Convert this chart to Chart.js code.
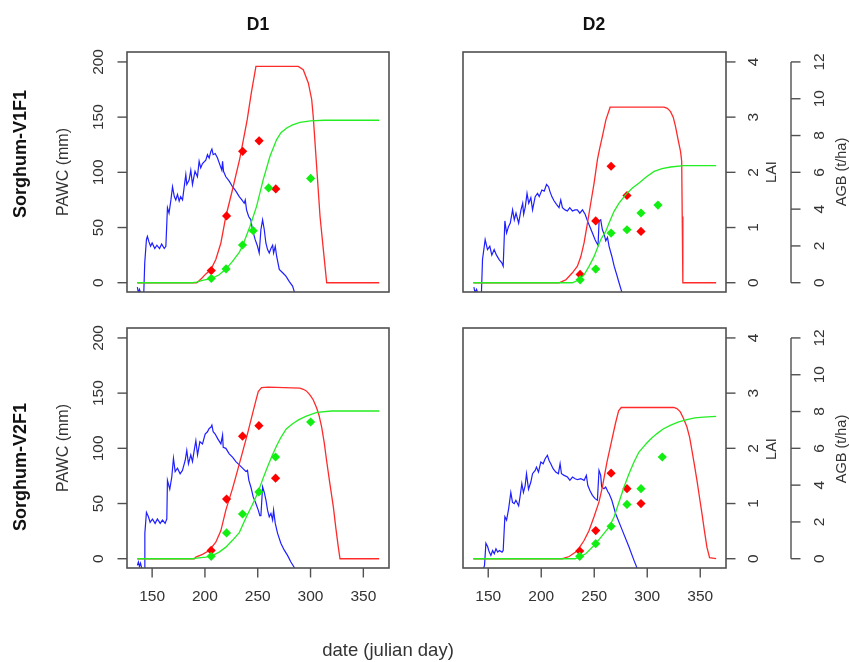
<!DOCTYPE html>
<html>
<head>
<meta charset="utf-8">
<script src="https://cdn.jsdelivr.net/npm/chart.js@4.4.1/dist/chart.umd.min.js"></script>
<style>
  html, body { margin: 0; padding: 0; background: #fff; }
  #wrap { position: relative; width: 849px; height: 662px; overflow: hidden; background: #fff; }
  canvas { position: absolute; left: 0; top: 0; }
  .t { position: absolute; white-space: nowrap; font-family: "Liberation Sans", Arial, Helvetica, sans-serif; transform: translate(-50%, -50%); line-height: 1; }
  .v { transform: translate(-50%, -50%) rotate(-90deg); }
  .title { font-weight: bold; font-size: 17.5px; color: #111; }
  .row { font-weight: bold; font-size: 18px; color: #111; }
  .ylab { font-size: 16px; color: #333; }
  .rlab { font-size: 14.5px; color: #333; }
  .xlab { font-size: 18.5px; color: #333; }
</style>
</head>
<body>
<div id="wrap">
  <canvas id="c1" width="849" height="662"></canvas>
  <canvas id="c2" width="849" height="662"></canvas>
  <canvas id="c3" width="849" height="662"></canvas>
  <canvas id="c4" width="849" height="662"></canvas>
  <div class="t title" style="left:258px;top:25px;">D1</div>
  <div class="t title" style="left:594px;top:25px;">D2</div>
  <div class="t v row" style="left:20px;top:154px;">Sorghum-V1F1</div>
  <div class="t v row" style="left:20px;top:467px;">Sorghum-V2F1</div>
  <div class="t v ylab" style="left:63px;top:172px;">PAWC (mm)</div>
  <div class="t v ylab" style="left:63px;top:448px;">PAWC (mm)</div>
  <div class="t v rlab" style="left:771px;top:172px;">LAI</div>
  <div class="t v rlab" style="left:771px;top:449px;">LAI</div>
  <div class="t v rlab" style="left:841px;top:172px;">AGB (t/ha)</div>
  <div class="t v rlab" style="left:841px;top:449px;">AGB (t/ha)</div>
  <div class="t xlab" style="left:388px;top:650px;">date (julian day)</div>
</div>
<script>
// ---------- tick labels ----------
const dayTicks = [150, 200, 250, 300, 350];
const pawcTicks = [0, 50, 100, 150, 200];
const laiTicks = [0, 1, 2, 3, 4];
const agbTicks = [0, 2, 4, 6, 8, 10, 12];

// ---------- Sorghum-V1F1, D1 ----------
const v1d1Pawc = [[136,-4],[137,-9],[138,-6],[140,-12],[142,-12],[143,18],[144.6,39],[145.5,42],[147,37],[148.5,33],[150,36],[152.5,31],[154.5,34],[157,31],[159,35],[161.5,31],[163,33],[164.5,68],[166,63],[167.8,75],[169.3,87],[171,78],[172.4,75],[174,80],[175.6,74],[177,78],[178.8,75],[180.4,87],[181.9,98],[182.8,89],[185,93],[186.6,102],[188.2,89],[190.6,101],[192.9,96],[194.5,110],[196,104],[197.7,108],[200.8,111],[202.4,116],[204,113],[205.6,119],[206.6,121],[207.8,116],[209.7,117],[211.9,113],[214.1,107],[216,102],[216.7,110],[217.6,101],[219.8,96],[223,92],[226.1,87],[229.3,83],[232.5,78],[235,75],[237.2,72],[238.2,75],[239.4,66],[241.4,60],[243.5,57],[245,48],[247.6,39],[249.8,33],[251.4,27],[253,48],[254.6,57],[256.2,48],[257.7,36],[259.3,30],[260.9,27],[262.5,31],[264.1,34],[265,27],[266.6,33],[267.9,24],[270.4,12],[273.6,9],[276.7,6],[279.9,1],[283,-3],[284.6,-8],[286,-12]];
const v1d1Lai = [[136,0],[192,0],[193,0.01],[197,0.08],[200.9,0.16],[205.6,0.24],[210.3,0.42],[215.1,0.72],[219.8,1.2],[226,1.68],[233,2.25],[240,2.95],[244,3.45],[248.3,3.92],[288.4,3.92],[293.1,3.86],[297.9,3.62],[301.1,3.32],[302.6,3.0],[305.8,2.1],[309,1.2],[313.7,0.3],[315.3,0],[365,0]];
const v1d1Agb = [[136,0],[188,0],[192,0.03],[197.7,0.13],[206.6,0.24],[213.5,0.43],[219.8,0.74],[226.1,1.16],[232.5,1.65],[235.6,2.0],[242.6,3.06],[248.9,4.15],[255.2,5.6],[261.6,6.87],[267.9,7.78],[272,8.15],[277.4,8.41],[283,8.58],[290,8.72],[300,8.8],[313,8.83],[365,8.83]];
const v1d1LaiObs = [[206,0.22],[220.5,1.21],[235.7,2.38],[251.3,2.57],[267.1,1.70]];
const v1d1AgbObs = [[206,0.23],[220,0.75],[235.6,2.05],[245.7,2.83],[260.3,5.15],[300.1,5.67]];

// ---------- Sorghum-V1F1, D2 ----------
const v1d2Pawc = [[136.5,-4],[137.5,-9],[139,-6],[141,-12],[143.5,-12],[144.6,21],[147.1,39],[149.3,30],[151.5,33],[153.4,25],[155.6,30],[157.8,25],[160.3,21],[162.8,18],[164.1,15],[165.7,56],[167.3,45],[169.2,51],[170.8,54],[173,66],[174.6,57],[176.2,63],[178.7,54],[180.9,66],[182.5,72],[183.4,62],[185,69],[186.6,81],[188.2,72],[190.2,77],[191.8,66],[194.3,78],[196.5,81],[198.1,78],[200.6,84],[202.8,83],[205,89],[206.9,87],[208.1,83],[210,78],[212.2,74],[214.4,71],[216.8,68],[218.4,75],[220,68],[222.5,66],[224.7,65],[226.9,68],[229.4,65],[231.9,66],[234.1,66],[236.4,63],[238.9,66],[241.4,62],[243.6,56],[245.8,51],[248.3,45],[250.8,39],[252.4,36],[253.6,34],[254.6,56],[256.1,57],[257.7,48],[259.3,44],[260.9,38],[262.5,41],[264,33],[266.6,24],[268.8,15],[271.3,7],[273.4,0],[275.9,-8],[277,-11]];
const v1d2Lai = [[136,0],[216.8,0],[223.1,0.05],[229.4,0.18],[234.1,0.3],[237.3,0.47],[240.4,0.72],[243.6,1.08],[246.7,1.44],[249.9,1.81],[253,2.23],[255,2.42],[258,2.68],[261,2.95],[265,3.18],[315.8,3.18],[319,3.16],[322,3.1],[324.5,3.0],[326.7,2.83],[329,2.6],[331.4,2.38],[332.5,2.2],[333,1.2],[333.6,0],[365,0]];
const v1d2Agb = [[136,0],[229.4,0],[235.7,0.16],[240.4,0.43],[245.1,0.89],[249.9,1.43],[253,1.89],[256.1,2.34],[260.8,2.79],[264,3.24],[268.7,3.88],[273.4,4.33],[279.7,4.79],[286,5.15],[292.3,5.42],[299,5.75],[306.5,6.05],[314,6.2],[322,6.29],[334.6,6.36],[365,6.36]];
const v1d2LaiObs = [[236.7,0.15],[251.4,1.12],[265.9,2.11],[280.9,1.58],[294.1,0.93]];
const v1d2AgbObs = [[236.7,0.16],[251.4,0.74],[265.9,2.7],[280.9,2.88],[294.1,3.79],[310.1,4.22]];

// ---------- Sorghum-V2F1, D1 ----------
const v2d1Pawc = [[136,-6],[137,-3],[138,-7],[139,-4],[140.5,-10],[142.5,-12],[143.1,23],[144.6,42],[146.5,38],[148.1,33],[150.3,36],[152.8,32],[155,36],[157.6,32],[159.8,35],[162.3,32],[163.9,36],[164.5,71],[166.7,63],[168.6,74],[170.2,91],[171.8,79],[174,82],[176.5,77],[178.7,80],[181.3,89],[182.8,98],[184.4,86],[186.6,94],[188.2,88],[189.8,98],[191.4,107],[193,94],[195.2,106],[197.7,104],[200.2,113],[202.4,115],[204,118],[205.6,119],[206.6,121],[207.8,115],[209.7,113],[211.9,109],[215.1,104],[216.7,112],[217.3,101],[219.8,100],[223,95],[226.1,92],[229.3,88],[232.5,85],[235.6,82],[238.8,79],[240.3,80],[241.6,71],[243.5,65],[245.7,56],[247.9,51],[250.5,44],[252,39],[253,39],[254.6,65],[256.2,60],[257.8,53],[259.3,44],[260.9,38],[262.5,41],[264.1,35],[265,44],[266.6,32],[268.8,23],[271.9,14],[275,8],[278.2,3],[281.4,-3],[284.6,-8],[286,-12]];
const v2d1Lai = [[136,0],[190,0],[191.4,0.03],[197.7,0.08],[204,0.15],[210.3,0.3],[215.1,0.51],[219.8,0.88],[226.1,1.27],[230.9,1.6],[235.6,1.93],[240.4,2.27],[245.1,2.63],[248.3,2.87],[250.5,3.03],[253.6,3.1],[260,3.11],[290,3.09],[293.1,3.07],[296,3.04],[299.4,2.97],[302.5,2.88],[305.8,2.73],[308,2.6],[310.5,2.39],[313,2.1],[315.2,1.78],[318,1.4],[321.6,0.94],[324,0.55],[326.3,0.21],[327.9,0],[365,0]];
const v2d1Agb = [[136,0],[188,0],[192,0.03],[200.9,0.09],[206.6,0.16],[213.5,0.36],[219.8,0.63],[226.1,1.0],[232.5,1.42],[239.4,2.3],[245,2.95],[249.8,3.55],[254.6,4.3],[259.3,5.0],[264,5.65],[268,6.15],[272,6.6],[277,7.05],[283,7.34],[289,7.56],[296,7.75],[306,7.95],[320,8.03],[365,8.03]];
const v2d1LaiObs = [[205.9,0.15],[220.5,1.08],[235.6,2.22],[251.1,2.41],[266.9,1.46]];
const v2d1AgbObs = [[205.9,0.13],[220.5,1.4],[235.6,2.43],[251.1,3.63],[266.9,5.53],[300.1,7.43]];

// ---------- Sorghum-V2F1, D2 ----------
const v2d2Pawc = [[144,-12],[145.5,-9],[146.5,-6],[147.8,14],[149.4,11],[151,6],[152.5,3],[154.1,7.5],[155.7,4.5],[157.3,9],[158.9,6],[160.5,7.5],[163,6],[164.1,7.5],[165.7,38],[167.3,35],[169.2,45],[171.3,60],[172.9,51],[174.5,50],[176.1,53],[178.7,48],[180,56],[181.7,68],[183.2,60],[184.8,66],[186.1,77],[188,63],[190.2,69.5],[191.8,77],[194.3,80],[195.5,83],[197.4,78.5],[199.6,87.6],[201.8,86],[203.7,90.6],[205.8,93.7],[207.4,89],[209,86],[211.2,81.6],[213.7,78.5],[216.2,77],[217.8,86],[219.1,77],[221.6,75.5],[224.8,74],[227,71],[229.5,74],[232,72.5],[234.2,71.6],[237.4,72.5],[240.5,71],[242.6,75.5],[243.9,66.5],[245.8,62],[248.3,57.4],[250.8,54.4],[253,53],[254.5,80],[256.1,75.5],[257,65],[259.2,63.4],[260.8,65],[263,60.4],[264,59],[266.6,53],[270.2,40.8],[276.5,25.7],[282.8,10.6],[287.5,-1.5],[290.6,-9],[292,-12]];
const v2d2Lai = [[136,0],[220,0],[226.3,0.04],[232.5,0.12],[236,0.2],[240.4,0.33],[245.1,0.51],[249.8,0.76],[254.5,1.03],[257.7,1.3],[262,1.75],[266,2.1],[270,2.45],[273,2.68],[275.5,2.74],[325,2.74],[328,2.72],[331.2,2.66],[334,2.55],[337.4,2.39],[340,2.2],[342.2,1.96],[344.5,1.7],[346.9,1.42],[349,1.15],[351.6,0.82],[354,0.5],[356.3,0.21],[358.8,0.02],[365,0]];
const v2d2Agb = [[136,0],[232,0],[237.2,0.13],[242,0.27],[246.7,0.54],[251.4,0.82],[257.7,1.27],[264,1.72],[268.7,2.27],[273.4,3.08],[278.1,3.9],[282.8,4.62],[287.5,5.26],[292.2,5.8],[296,6.05],[299.8,6.3],[304,6.55],[309.2,6.8],[315,7.05],[321.7,7.25],[329,7.42],[337.4,7.56],[345,7.65],[353.1,7.7],[365,7.74]];
const v2d2LaiObs = [[236.3,0.14],[251.4,0.51],[265.9,1.55],[280.9,1.27],[294.1,1.0]];
const v2d2AgbObs = [[236.3,0.13],[251.4,0.82],[265.9,1.76],[280.9,2.95],[294.1,3.81],[314.2,5.53]];

// ---------- styling / layout ----------
const FONT = '"Liberation Sans", Arial, Helvetica, sans-serif';
const BLUE = '#1f1fff', RED = '#ff2a2a', GREEN = '#22ee22';
const RED_PT = '#ff0000', GREEN_PT = '#11ee11';
const COLS = [{ left: 127, right: 389 }, { left: 463, right: 726 }];
const ROWS = [{ top: 52, bottom: 292 }, { top: 328, bottom: 568 }];
const W = 849, H = 662;

const rAxes = {
  id: 'rAxes',
  afterDatasetsDraw(chart, args, o) {
    const { ctx, chartArea: a, scales: s } = chart;
    ctx.save();
    ctx.strokeStyle = '#505050';
    ctx.lineWidth = 1.6;
    ctx.strokeRect(a.left, a.top, a.right - a.left, a.bottom - a.top);
    ctx.lineWidth = 1.4;
    ctx.fillStyle = '#333';
    ctx.font = '15.5px ' + FONT;
    ctx.textAlign = 'center';
    ctx.textBaseline = 'middle';
    const seg = (x1, y1, x2, y2) => { ctx.beginPath(); ctx.moveTo(x1, y1); ctx.lineTo(x2, y2); ctx.stroke(); };
    const vtext = (t, x, y) => { ctx.save(); ctx.translate(x, y); ctx.rotate(-Math.PI / 2); ctx.fillText(t, 0, 0); ctx.restore(); };
    if (o.left) {
      pawcTicks.forEach(v => { const y = s.y.getPixelForValue(v); seg(a.left, y, a.left - 9.5, y); vtext(String(v), a.left - 28, y); });
    }
    if (o.right) {
      laiTicks.forEach(v => { const y = s.yL.getPixelForValue(v); seg(a.right, y, a.right + 9.5, y); vtext(String(v), a.right + 27.5, y); });
      const ax = a.right + 65;
      seg(ax, s.yA.getPixelForValue(agbTicks[0]), ax, s.yA.getPixelForValue(agbTicks[agbTicks.length - 1]));
      agbTicks.forEach(v => { const y = s.yA.getPixelForValue(v); seg(ax, y, ax + 9.5, y); vtext(String(v), ax + 29, y); });
    }
    if (o.bottom) {
      dayTicks.forEach(v => { const x = s.x.getPixelForValue(v); seg(x, a.bottom, x, a.bottom + 9.5); ctx.fillText(String(v), x, a.bottom + 29); });
    }
    ctx.restore();
  }
};

const xy = arr => arr.map(([x, y]) => ({ x, y }));

function makePanel(id, col, row, pawc, lai, agb, laiObs, agbObs, axes) {
  const c = COLS[col], r = ROWS[row];
  new Chart(document.getElementById(id), {
    type: 'line',
    data: {
      datasets: [
        { type: 'scatter', data: xy(agbObs), yAxisID: 'yA', backgroundColor: GREEN_PT, borderWidth: 0, pointStyle: 'rectRot', pointRadius: 4.6 },
        { data: xy(agb), yAxisID: 'yA', borderColor: GREEN, borderWidth: 1.3, pointRadius: 0, fill: false, tension: 0 },
        { type: 'scatter', data: xy(laiObs), yAxisID: 'yL', backgroundColor: RED_PT, borderWidth: 0, pointStyle: 'rectRot', pointRadius: 4.6 },
        { data: xy(lai), yAxisID: 'yL', borderColor: RED, borderWidth: 1.3, pointRadius: 0, fill: false, tension: 0 },
        { data: xy(pawc), yAxisID: 'y', borderColor: BLUE, borderWidth: 1.2, pointRadius: 0, fill: false, tension: 0 }
      ]
    },
    options: {
      responsive: false,
      animation: false,
      devicePixelRatio: 1,
      events: [],
      layout: { padding: { left: c.left, right: W - c.right, top: r.top, bottom: H - r.bottom } },
      scales: {
        x: { type: 'linear', min: 126.2, max: 374.3, display: false },
        y: { type: 'linear', min: -8.4, max: 209, display: false },
        yL: { type: 'linear', min: -0.168, max: 4.18, display: false },
        yA: { type: 'linear', min: -0.504, max: 12.54, display: false }
      },
      plugins: { legend: { display: false }, tooltip: { enabled: false }, rAxes: axes }
    },
    plugins: [rAxes]
  });
}

makePanel('c1', 0, 0, v1d1Pawc, v1d1Lai, v1d1Agb, v1d1LaiObs, v1d1AgbObs, { left: true, right: false, bottom: false });
makePanel('c2', 1, 0, v1d2Pawc, v1d2Lai, v1d2Agb, v1d2LaiObs, v1d2AgbObs, { left: false, right: true, bottom: false });
makePanel('c3', 0, 1, v2d1Pawc, v2d1Lai, v2d1Agb, v2d1LaiObs, v2d1AgbObs, { left: true, right: false, bottom: true });
makePanel('c4', 1, 1, v2d2Pawc, v2d2Lai, v2d2Agb, v2d2LaiObs, v2d2AgbObs, { left: false, right: true, bottom: true });
</script>
</body>
</html>
